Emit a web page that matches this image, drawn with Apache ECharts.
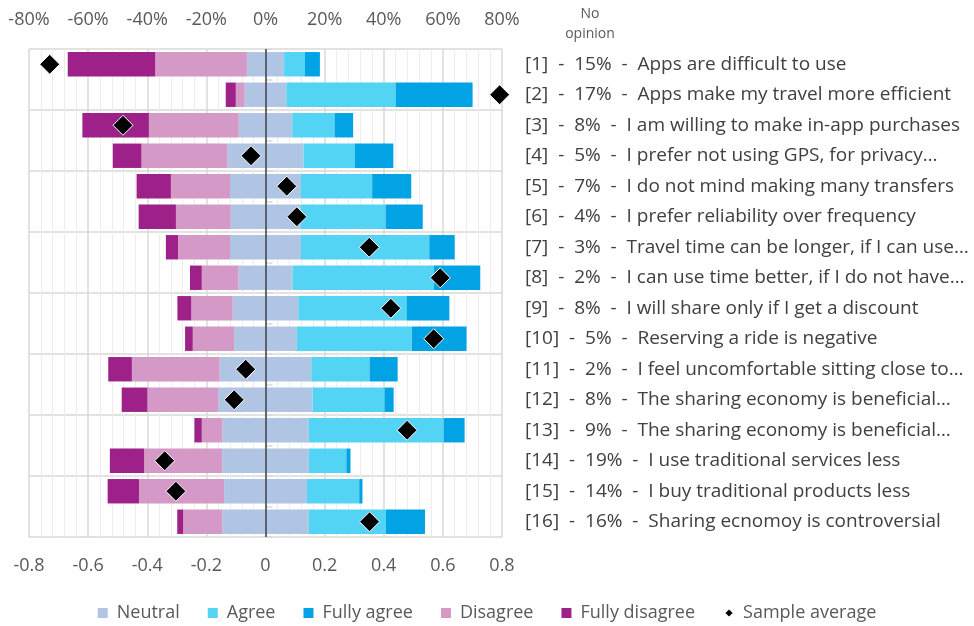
<!DOCTYPE html>
<html>
<head>
<meta charset="utf-8">
<script src="https://cdn.jsdelivr.net/npm/echarts@6/dist/echarts.min.js"></script>
<style>
  html, body { margin: 0; padding: 0; background: #fff; }
  #chart { width: 974px; height: 626px; }
</style>
</head>
<body>
<div id="chart"></div>
<script>
// statements (right-hand labels) and the share with no opinion, in %
const statements = [
  'Apps are difficult to use',
  'Apps make my travel more efficient',
  'I am willing to make in-app purchases',
  'I prefer not using GPS, for privacy…',
  'I do not mind making many transfers',
  'I prefer reliability over frequency',
  'Travel time can be longer, if I can use…',
  'I can use time better, if I do not have…',
  'I will share only if I get a discount',
  'Reserving a ride is negative',
  'I feel uncomfortable sitting close to…',
  'The sharing economy is beneficial…',
  'The sharing economy is beneficial…',
  'I use traditional services less',
  'I buy traditional products less',
  'Sharing ecnomoy is controversial'
];
const noOpinion = [15, 17, 8, 5, 7, 4, 3, 2, 8, 5, 2, 8, 9, 19, 14, 16];

// answer shares (fractions of respondents)
const fullyDisagree = [0.296, 0.034, 0.225, 0.097, 0.116, 0.126, 0.041, 0.040, 0.047, 0.026, 0.080, 0.087, 0.025, 0.116, 0.106, 0.020];
const disagree      = [0.310, 0.030, 0.304, 0.291, 0.200, 0.185, 0.176, 0.124, 0.140, 0.140, 0.297, 0.240, 0.069, 0.264, 0.288, 0.132];
const neutral       = [0.126, 0.141, 0.181, 0.257, 0.240, 0.236, 0.240, 0.183, 0.222, 0.212, 0.310, 0.319, 0.293, 0.293, 0.280, 0.293];
const agree         = [0.070, 0.370, 0.143, 0.173, 0.241, 0.288, 0.434, 0.478, 0.366, 0.389, 0.197, 0.243, 0.456, 0.127, 0.177, 0.261];
const fullyAgree    = [0.051, 0.260, 0.063, 0.131, 0.132, 0.126, 0.086, 0.157, 0.145, 0.185, 0.095, 0.031, 0.071, 0.014, 0.011, 0.132];
const sampleAverage = [-0.730, 0.792, -0.482, -0.049, 0.072, 0.106, 0.351, 0.591, 0.424, 0.569, -0.067, -0.106, 0.479, -0.341, -0.303, 0.352];

const xTicks = [-0.8, 0.8, 0.2]; // min, max, interval

const categories = statements.map((s, i) => '[' + (i + 1) + ']');
const font = 'Open Sans';
const textColor = '#595959';

const chart = echarts.init(document.getElementById('chart'));

const neg = arr => arr.map(v => -v);

const barStyle = color => ({ color: color });

chart.setOption({
  animation: false,
  textStyle: { fontFamily: font },
  grid: { left: 29, right: 472, top: 49, bottom: 89 },
  graphic: [{
    type: 'text',
    x: 590,
    y: 4,
    style: {
      text: 'No\nopinion',
      textAlign: 'center',
      fontFamily: font,
      fontSize: 14,
      lineHeight: 20,
      fill: textColor
    }
  }],
  legend: {
    bottom: -1,
    left: 'center',
    itemWidth: 10,
    itemHeight: 10,
    itemGap: 28,
    textStyle: { fontSize: 18, color: textColor, fontFamily: font, padding: [0, 0, 0, 4] },
    data: [
      { name: 'Neutral', icon: 'rect' },
      { name: 'Agree', icon: 'rect' },
      { name: 'Fully agree', icon: 'rect' },
      { name: 'Disagree', icon: 'rect' },
      { name: 'Fully disagree', icon: 'rect' },
      { name: 'Sample average', icon: 'diamond' }
    ]
  },
  xAxis: [
    {
      type: 'value',
      position: 'bottom',
      min: xTicks[0], max: xTicks[1], interval: xTicks[2],
      axisLine: { show: false },
      axisTick: { show: false },
      axisLabel: {
        fontSize: 18, color: textColor, margin: 20,
        formatter: v => (Math.round(v * 10) / 10).toString()
      },
      splitLine: { lineStyle: { color: '#d9d9d9', width: 1.5 } },
      minorTick: { show: false, splitNumber: 5 },
      minorSplitLine: { show: true, lineStyle: { color: '#ededed', width: 1 } }
    },
    {
      type: 'value',
      position: 'top',
      min: xTicks[0], max: xTicks[1], interval: xTicks[2],
      axisLine: { show: false },
      axisTick: { show: false },
      axisLabel: {
        fontSize: 18, color: textColor, margin: 20,
        formatter: v => Math.round(v * 100) + '%'
      },
      splitLine: { show: false }
    }
  ],
  yAxis: {
    type: 'category',
    data: categories,
    inverse: true,
    position: 'right',
    axisLine: { show: false },
    axisTick: { show: true, length: 7, lineStyle: { color: '#d9d9d9', width: 1.5 } },
    splitLine: { show: true, interval: 1, lineStyle: { color: '#d9d9d9', width: 1.5 } },
    axisLabel: {
      margin: 23,
      align: 'left',
      fontSize: 19,
      color: '#404040',
      formatter: (v, i) => '[' + (i + 1) + ']  -  ' + noOpinion[i] + '%  -  ' + statements[i]
    }
  },
  series: [
    {
      name: 'Neutral', type: 'bar', stack: 'likert', barWidth: '80%',
      itemStyle: barStyle('#b0c4e4'),
      data: neutral.map(v => -v / 2),
      markLine: {
        silent: true, symbol: 'none', label: { show: false },
        lineStyle: { color: '#404040', width: 1.5, type: 'solid' },
        data: [{ xAxis: 0 }]
      }
    },
    {
      name: 'Neutral', type: 'bar', stack: 'likert', barWidth: '80%',
      itemStyle: barStyle('#b0c4e4'),
      data: neutral.map(v => v / 2)
    },
    {
      name: 'Agree', type: 'bar', stack: 'likert', barWidth: '80%',
      itemStyle: barStyle('#53d4f5'),
      data: agree
    },
    {
      name: 'Fully agree', type: 'bar', stack: 'likert', barWidth: '80%',
      itemStyle: barStyle('#02a3e5'),
      data: fullyAgree
    },
    {
      name: 'Disagree', type: 'bar', stack: 'likert', barWidth: '80%',
      itemStyle: barStyle('#d499c6'),
      data: neg(disagree)
    },
    {
      name: 'Fully disagree', type: 'bar', stack: 'likert', barWidth: '80%',
      itemStyle: barStyle('#9d2189'),
      data: neg(fullyDisagree)
    },
    {
      name: 'Sample average', type: 'scatter',
      symbol: 'diamond', symbolSize: 20, z: 10,
      itemStyle: { color: '#000', borderColor: '#fff', borderWidth: 1, opacity: 1 },
      data: sampleAverage.map((v, i) => [v, i])
    }
  ]
});
</script>
</body>
</html>
